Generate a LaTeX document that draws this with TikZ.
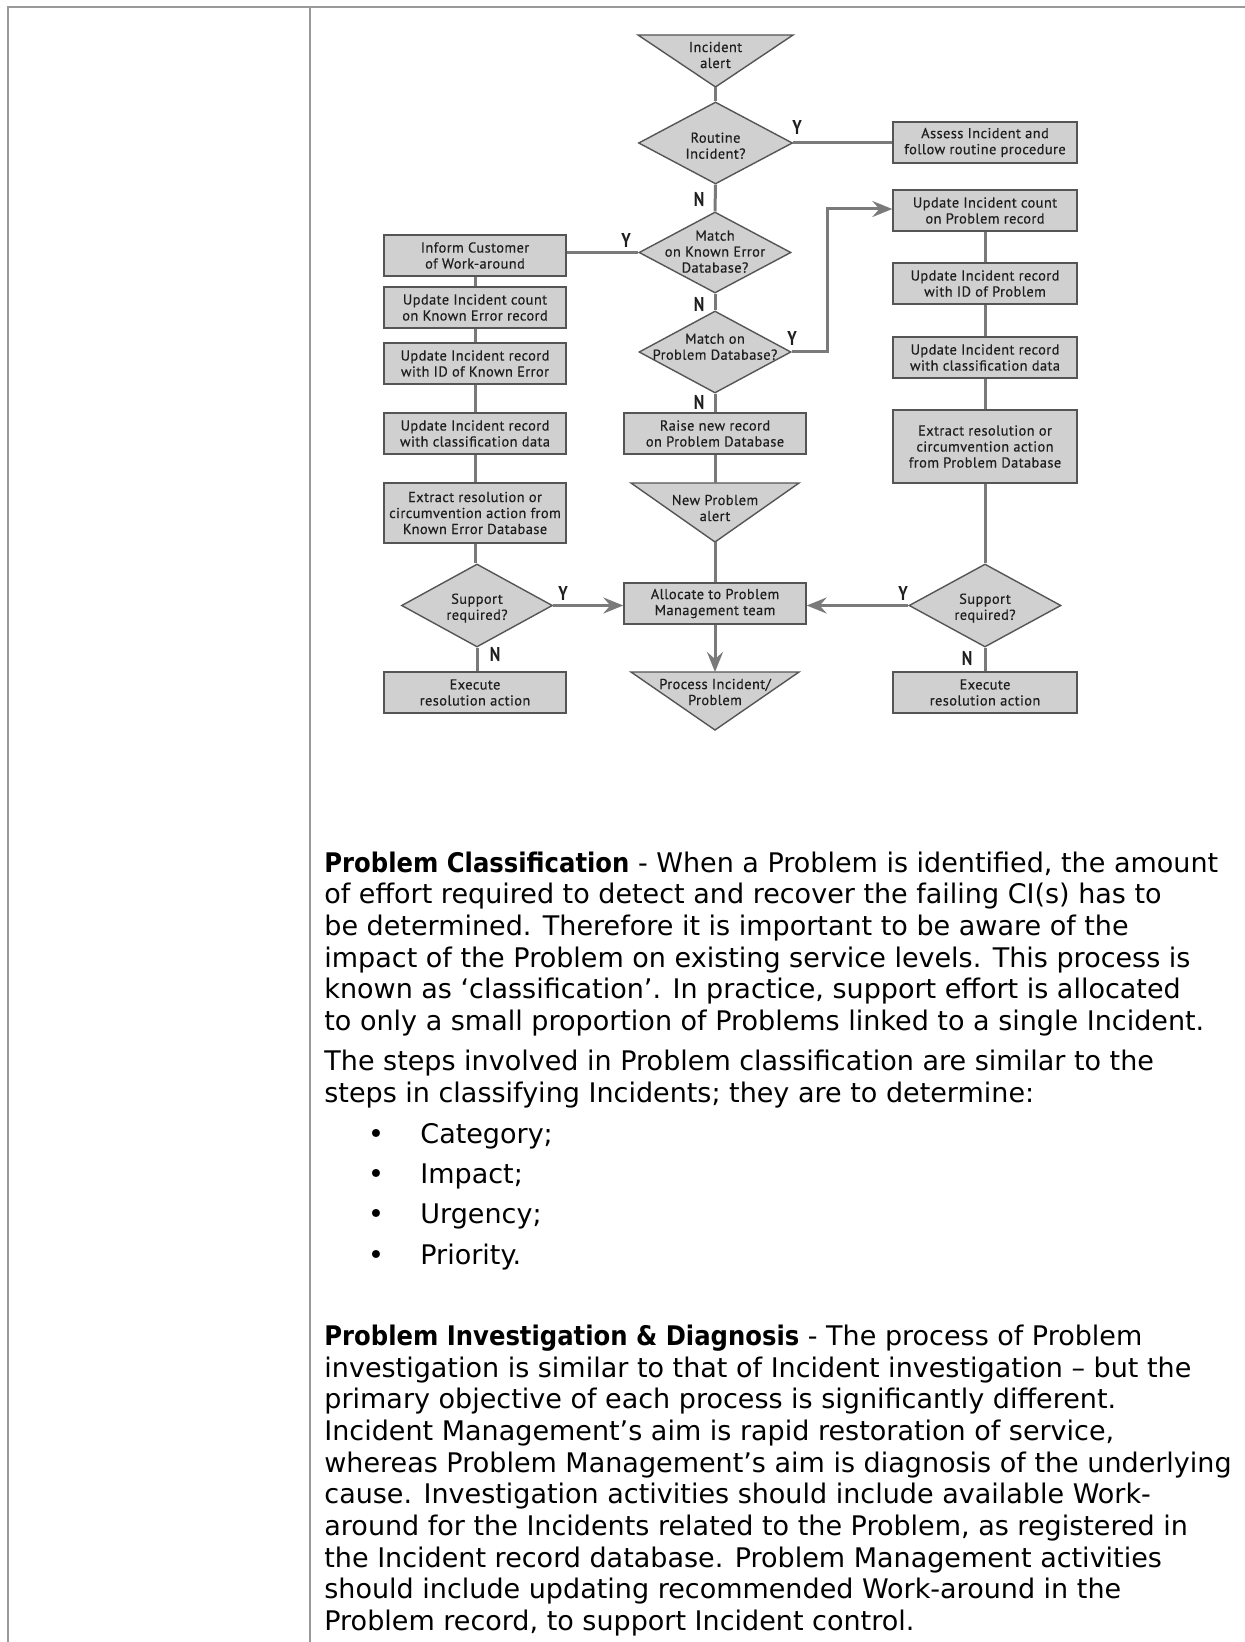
\documentclass[tikz,border=0pt]{standalone}
\usepackage{fontspec}
\setmainfont{DejaVu Sans}
\newfontfamily\chartfam{PT Sans}[LetterSpace=3, FakeBold=0.4]
\newfontfamily\ynfam{PT Sans}[FakeStretch=0.8]
\newfontfamily\bodyfam{DejaVu Sans}[BoldFeatures={FakeStretch=0.9}]
\newcommand\chartfont{\chartfam\fontsize{7.2}{8}\selectfont}
\newcommand\ynfont{\ynfam\bfseries\fontsize{10}{11}\selectfont}
\newcommand\bodyfont{\bodyfam\fontsize{13.5}{16}\selectfont}
\newcommand\dtext[2][-3pt]{\smash{\raisebox{#1}{\makebox[0pt]{\begin{tabular}{@{}c@{}}#2\end{tabular}}}}}
\usetikzlibrary{shapes.geometric,arrows.meta}
\definecolor{framegray}{HTML}{999999}
\definecolor{linegray}{HTML}{7A7A7A}
\definecolor{boxfill}{HTML}{D0D0D0}
\definecolor{boxline}{HTML}{555555}
\definecolor{charttext}{HTML}{1E1E1E}
\begin{document}
\begin{tikzpicture}[x=0.5pt,y=-0.5pt,
  chartbox/.style={draw=boxline, fill=boxfill, line width=0.7pt, minimum width=91pt, minimum height=20.5pt, inner sep=0pt, align=center, font=\chartfont, text=charttext},
  decision/.style={draw=boxline, fill=boxfill, line width=0.7pt, shape=diamond, inner sep=0pt, minimum width=76pt, minimum height=41pt, font=\chartfont, text=charttext},
  tri/.style={draw=boxline, fill=boxfill, line width=0.7pt, line join=miter},
  tritext/.style={inner sep=0pt, align=center, font=\chartfont, text=charttext},
  flow/.style={draw=linegray, line width=1.5pt},
  flowarrow/.style={flow, -{Stealth[length=10pt,width=8pt,inset=3.5pt]}},
  yn/.style={inner sep=0pt, font=\ynfont, text=charttext},
  body/.style={anchor=base west, inner sep=0pt, font=\bodyfont},
  bullet/.style={anchor=base, inner sep=0pt, font=\bodyfont},
  frame/.style={draw=framegray, line width=1.15pt}
]
\useasboundingbox (0,0) rectangle (1245,1642);
\fill[white] (0,0) rectangle (1245,1642);

% page frame
\draw[frame] (8,1642) -- (8,7.3) -- (1245,7.3);
\draw[frame] (310,7.3) -- (310,1642);

% triangles (terminators)
\coordinate (alertTL) at (638,35);
\coordinate (alertTR) at (793,35);
\coordinate (alertTip) at (715.5,87);
\draw[tri] (alertTL) -- (alertTR) -- (alertTip) -- cycle;
\node[tritext] (alert) at (715.5,55) {Incident\\alert};

\coordinate (newprobTL) at (631,483);
\coordinate (newprobTR) at (799,483);
\coordinate (newprobTop) at (715,483);
\coordinate (newprobTip) at (715,542);
\draw[tri] (newprobTL) -- (newprobTR) -- (newprobTip) -- cycle;
\node[tritext] (newprob) at (715,508) {New Problem\\alert};

\coordinate (processTL) at (631,672);
\coordinate (processTR) at (799,672);
\coordinate (processTop) at (715,672);
\coordinate (processTip) at (715,730);
\draw[tri] (processTL) -- (processTR) -- (processTip) -- cycle;
\node[tritext] (process) at (715,692) {Process Incident/\\Problem};

% decisions
\node[decision, minimum width=77pt] (routine) at (715.5,143) {\dtext[-4pt]{Routine\\Incident?}};
\node[decision, minimum height=40.5pt] (matchKE) at (715,252.5) {\dtext[-2.2pt]{Match\\on Known Error\\Database?}};
\node[decision] (matchPD) at (715,352) {\dtext[0pt]{Match on\\Problem Database?}};
\node[decision, minimum width=75.5pt, minimum height=41.5pt] (supportL) at (477,605.5) {\dtext[-3.3pt]{Support\\required?}};
\node[decision, minimum height=41.5pt] (supportR) at (985,605.5) {\dtext[-3.3pt]{Support\\required?}};

% centre column boxes
\node[chartbox] (raise) at (715,433.5) {Raise new record\\on Problem Database};
\node[chartbox] (allocate) at (715,603.5) {Allocate to Problem\\Management team};

% left column boxes
\node[chartbox] (inform) at (475,255.5) {Inform Customer\\of Work-around};
\node[chartbox] (updKEcount) at (475,307.5) {Update Incident count\\on Known Error record};
\node[chartbox] (updKEid) at (475,363.5) {Update Incident record\\with ID of Known Error};
\node[chartbox] (updKEclass) at (475,433.5) {Update Incident record\\with classification data};
\node[chartbox, minimum height=30pt] (extractKE) at (475,513) {Extract resolution or\\circumvention action from\\Known Error Database};
\node[chartbox] (execL) at (475,692.5) {Execute\\resolution action};

% right column boxes
\node[chartbox, minimum width=92pt] (assess) at (985,142.5) {Assess Incident and\\follow routine procedure};
\node[chartbox, minimum width=92pt] (updPcount) at (985,210.5) {Update Incident count\\on Problem record};
\node[chartbox, minimum width=92pt] (updPid) at (985,283.5) {Update Incident record\\with ID of Problem};
\node[chartbox, minimum width=92pt] (updPclass) at (985,357.5) {Update Incident record\\with classification data};
\node[chartbox, minimum width=92pt, minimum height=36.5pt] (extractP) at (985,446.5) {Extract resolution or\\circumvention action\\from Problem Database};
\node[chartbox, minimum width=92pt] (execR) at (985,692.5) {Execute\\resolution action};

% connectors
\draw[flow] (alertTip) -- (routine.north);
\draw[flow] (routine.east) -- (routine.east -| assess.west);
\draw[flow] (routine.south) -- (matchKE.north);
\draw[flow] (matchKE.west) -- (matchKE.west -| inform.east);
\draw[flow] (matchKE.south) -- (matchPD.north);
\coordinate (bendP) at (827,209);
\draw[flowarrow] (matchPD.east) -| (bendP) -- (bendP -| updPcount.west);
\draw[flow] (matchPD.south) -- (raise.north);
\draw[flow] (raise.south) -- (newprobTop);
\draw[flow] (newprobTip) -- (allocate.north);
\draw[flowarrow] (allocate.south) -- (processTop);

\draw[flow] (inform.south) -- (updKEcount.north);
\draw[flow] (updKEcount.south) -- (updKEid.north);
\draw[flow] (updKEid.south) -- (updKEclass.north);
\draw[flow] (updKEclass.south) -- (extractKE.north);
\draw[flow] (extractKE.south) -- (extractKE.south |- supportL.north);
\draw[flowarrow] (supportL.east) -- (supportL.east -| allocate.west);
\draw[flow] (supportL.south) -- (supportL.south |- execL.north);

\draw[flow] (updPcount.south) -- (updPid.north);
\draw[flow] (updPid.south) -- (updPclass.north);
\draw[flow] (updPclass.south) -- (extractP.north);
\draw[flow] (extractP.south) -- (supportR.north);
\draw[flowarrow] (supportR.west) -- (supportR.west -| allocate.east);
\draw[flow] (supportR.south) -- (execR.north);

% Y / N labels
\node[yn] (yRoutine) at (797,128) {Y};
\node[yn] (nRoutine) at (699,200) {N};
\node[yn] (yMatchKE) at (626,241) {Y};
\node[yn] (nMatchKE) at (699,305) {N};
\node[yn] (yMatchPD) at (792,338) {Y};
\node[yn] (nMatchPD) at (699,402) {N};
\node[yn] (ySupportL) at (563,593) {Y};
\node[yn] (nSupportL) at (495,654) {N};
\node[yn] (ySupportR) at (903,593) {Y};
\node[yn] (nSupportR) at (967,658) {N};

% body text
\node[body] (c1) at (324,872) {\textbf{Problem Classification} - When a Problem is identified, the amount};
\node[body] (c2) at (324,903) {of effort required to detect and recover the failing CI(s) has to};
\node[body] (c3) at (324,935) {be determined. Therefore it is important to be aware of the};
\node[body] (c4) at (324,967) {impact of the Problem on existing service levels. This process is};
\node[body] (c5) at (324,998) {known as ‘classification’. In practice, support effort is allocated};
\node[body] (c6) at (324,1030) {to only a small proportion of Problems linked to a single Incident.};
\node[body] (c7) at (324,1070) {The steps involved in Problem classification are similar to the};
\node[body] (c8) at (324,1102) {steps in classifying Incidents; they are to determine:};

\node[bullet] (b1) at (376,1143) {•};
\node[body] (t1) at (420,1143) {Category;};
\node[bullet] (b2) at (376,1183) {•};
\node[body] (t2) at (420,1183) {Impact;};
\node[bullet] (b3) at (376,1223) {•};
\node[body] (t3) at (420,1223) {Urgency;};
\node[bullet] (b4) at (376,1264) {•};
\node[body] (t4) at (420,1264) {Priority.};

\node[body] (d1) at (324,1345) {\textbf{Problem Investigation \& Diagnosis} - The process of Problem};
\node[body] (d2) at (324,1377) {investigation is similar to that of Incident investigation – but the};
\node[body] (d3) at (324,1408) {primary objective of each process is significantly different.};
\node[body] (d4) at (324,1440) {Incident Management’s aim is rapid restoration of service,};
\node[body] (d5) at (324,1472) {whereas Problem Management’s aim is diagnosis of the underlying};
\node[body] (d6) at (324,1503) {cause. Investigation activities should include available Work-};
\node[body] (d7) at (324,1535) {around for the Incidents related to the Problem, as registered in};
\node[body] (d8) at (324,1567) {the Incident record database. Problem Management activities};
\node[body] (d9) at (324,1598) {should include updating recommended Work-around in the};
\node[body] (d10) at (324,1630) {Problem record, to support Incident control.};
\end{tikzpicture}
\end{document}
